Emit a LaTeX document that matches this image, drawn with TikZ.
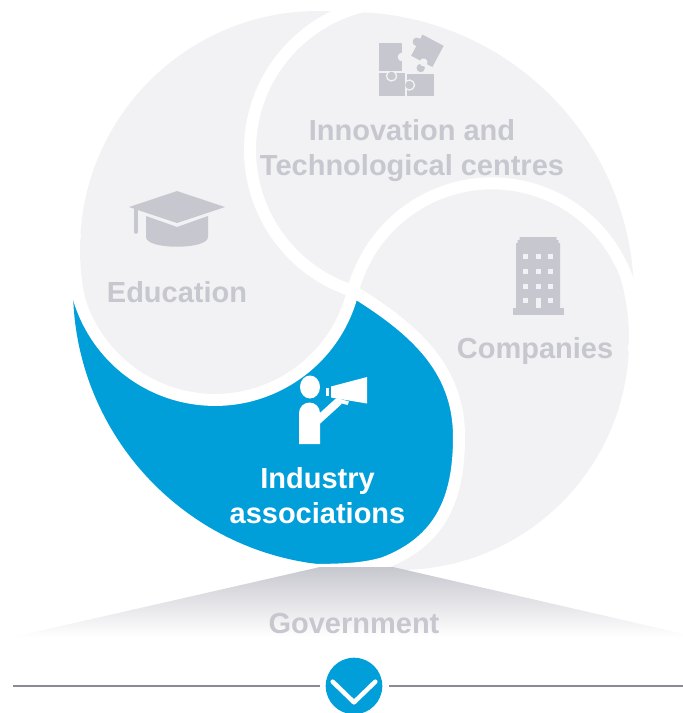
\documentclass[tikz,border=0pt]{standalone}
\usepackage{fontspec}
\setmainfont{Liberation Sans}
\usepackage{xcolor}
\definecolor{regiongray}{RGB}{242,242,244}
\definecolor{textgray}{RGB}{199,199,207}
\definecolor{partblue}{RGB}{0,159,218}
\definecolor{rulegray}{RGB}{138,138,148}
\tikzstyle{partlabel} = [font=\bfseries\fontsize{29}{35}\selectfont, text=textgray, align=center, inner sep=0pt, anchor=base]
\tikzstyle{band} = [draw=white, line width=12pt]
\tikzstyle{icon} = [fill=textgray]
\tikzstyle{seam} = [draw=regiongray, line width=1.3pt]
\tikzstyle{rule} = [draw=rulegray, line width=2.7pt]

% the two S-shaped dividing curves
\newcommand{\curveA}{(385.1,2.6) arc[start angle=265, end angle=107.7, radius=148] .. controls (412.5,328) and (459,367) .. (459,437) .. controls (459,500) and (439.8,541.4) .. (384,563) .. controls (362,569.5) and (340,570) .. (300,570)}
\newcommand{\curveB}{(633.4,351.9) arc[start angle=10, end angle=-165.5, radius=143.6] arc[start angle=13.45, end angle=190, radius=141.9]}

\begin{document}
\begin{tikzpicture}[x=1pt, y=-1pt]
\useasboundingbox (0,0) rectangle (683,713);

% Parts
\begin{scope} % Education
  \clip \curveA -- (300,750) -- (-100,750) -- (-100,-50) -- (385.1,-50) -- cycle;
  \clip \curveB -- (-100,233.4) -- (-100,-100) -- (800,-100) -- (800,351.9) -- cycle;
  \fill[regiongray] (318,249) circle (238);
\end{scope}
\begin{scope} % Innovation
  \clip \curveA -- (300,750) -- (800,750) -- (800,-50) -- (385.1,-50) -- cycle;
  \clip \curveB -- (-100,233.4) -- (-100,-100) -- (800,-100) -- (800,351.9) -- cycle;
  \fill[regiongray] (349,297) circle (285);
\end{scope}
\begin{scope} % Companies
  \clip \curveA -- (300,750) -- (800,750) -- (800,-50) -- (385.1,-50) -- cycle;
  \clip \curveB -- (-100,233.4) -- (-100,750) -- (800,750) -- (800,351.9) -- cycle;
  \fill[regiongray] (399,340) circle (230);
\end{scope}
\begin{scope} % Industry associations
  \clip \curveA -- (300,750) -- (-100,750) -- (-100,-50) -- (385.1,-50) -- cycle;
  \clip \curveB -- (-100,233.4) -- (-100,750) -- (800,750) -- (800,351.9) -- cycle;
  \fill[partblue] (351,288) circle (278);
\end{scope}
\draw[band] \curveA;
\draw[band] \curveB;

% Government
\shade[top color=textgray, bottom color=white] (320,567) -- (393,567) -- (697,637) -- (13,637) -- cycle;

% Icons
\fill[icon] (379,43) rectangle (402,71); % puzzle
\fill[icon] (379,73) rectangle (405,96);
\fill[icon] (407,74) rectangle (434,96);
\fill[icon] (420.7,68) circle (4.2);
\fill[icon] (391.5,76) circle (4.3);
\draw[seam] ([shift={(230:5)}]391.5,76) arc[start angle=230, end angle=-50, radius=5];
\fill[icon] (409.5,85) circle (4.3);
\draw[seam] ([shift={(-130:5)}]409.5,85) arc[start angle=-130, end angle=130, radius=5];
\fill[regiongray] (402,57) circle (4.3);
\begin{scope}[shift={(427.4,50.8)}, rotate=-28]
  \fill[icon] (-12,-12) rectangle (12,12);
  \fill[icon] (-13.5,-3) circle (4.3);
  \fill[regiongray] (2,12) circle (4);
\end{scope}

\fill[icon] (129,207) -- (177,191) -- (225,207) -- (177,223) -- cycle; % cap
\fill[icon] (146,216) -- (177,227) -- (208,216) -- (208,237) .. controls (208,250) and (146,250) .. (146,237) -- cycle;
\draw[textgray, line width=3.5pt, line cap=round] (135.8,209) -- (135.8,232);

\fill[icon] (519.5,237) -- (556.5,237) -- (556.5,240) -- (558.5,240) -- (558.5,243) -- (560,243) -- (560,309) -- (516,309) -- (516,243) -- (517.5,243) -- (517.5,240) -- (519.5,240) -- cycle; % building
\fill[icon] (513,308) rectangle (564,315);
\foreach \x in {525.2,538.2,550.8}
  \foreach \y in {256,271,286}
    \fill[regiongray] (\x-2.5,\y-2.5) rectangle (\x+2.5,\y+2.5);
\foreach \x in {525.2,550.8}
  \fill[regiongray] (\x-2.5,298) rectangle (\x+2.5,303);
\fill[regiongray] (535.7,298) rectangle (540.7,308);

\fill[white] (310,387) ellipse [x radius=10, y radius=11.5]; % speaker
\fill[white] (299,444) -- (299,413) arc[start angle=180, end angle=360, radius=10.5] -- (320,444) -- cycle;
\draw[white, line width=8pt] (317,421) -- (339,401);
\fill[white] (325.5,388) rectangle (328.5,396);
\fill[white] (331,386.5) -- (367,377) -- (367,403.5) -- (331,397.5) -- cycle;
\fill[white] (337,398) -- (349,401.5) -- (347.5,405) -- (336,402) -- cycle;

% Labels
\node (inno) [partlabel] at (412,175) {Innovation and\\Technological centres};
\node (edu) [partlabel] at (177,302) {Education};
\node (comp) [partlabel] at (535,358) {Companies};
\node (ind) [partlabel, text=white] at (317.5,523) {Industry\\associations};
\node (gov) [partlabel] at (354,633) {Government};

% Bottom rule
\node (down) [circle, fill=partblue, minimum size=56.6pt, inner sep=0pt] at (354,686) {};
\coordinate (ruleL) at (13,686);
\coordinate (ruleR) at (690,686);
\draw[rule, shorten >=6pt] (ruleL) -- (down);
\draw[rule, shorten >=6pt] (ruleR) -- (down);
\draw[white, line width=4.5pt, line cap=round, line join=round] ([shift={(-21.3,-4.3)}]down.center) -- ([shift={(0,16.3)}]down.center) -- ([shift={(21.3,-4.3)}]down.center);

\end{tikzpicture}
\end{document}
